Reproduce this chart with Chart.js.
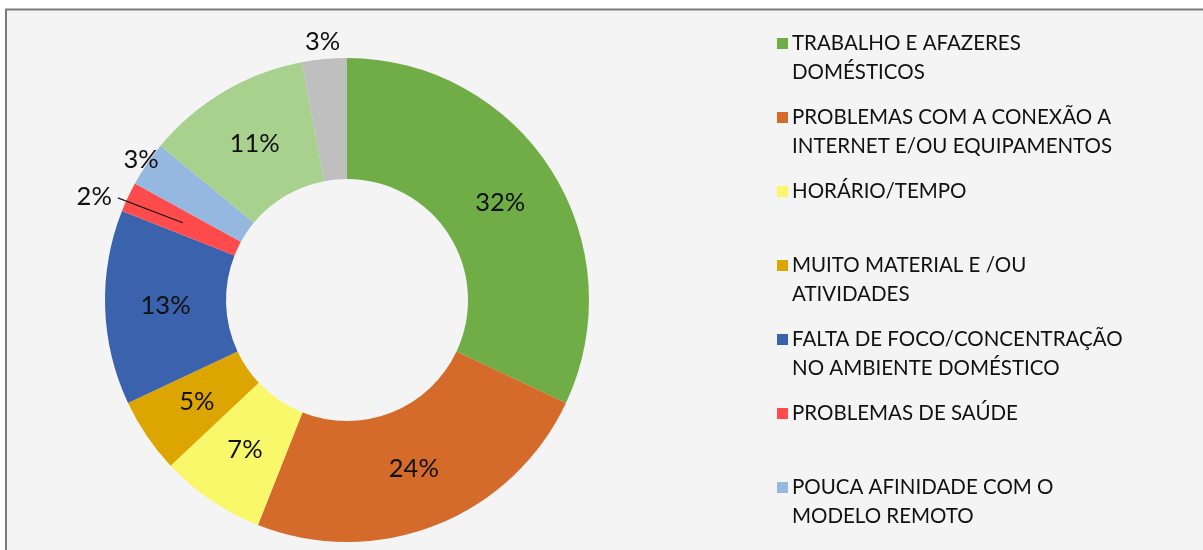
<!DOCTYPE html>
<html><head><meta charset="utf-8">
<script src="https://cdn.jsdelivr.net/npm/chart.js@4.4.0/dist/chart.umd.min.js"></script>
<style>html,body{margin:0;padding:0;background:#fff;}#wrap{width:1203px;height:550px;position:relative;}</style>
</head><body><div id="wrap"><canvas id="c"></canvas></div>
<script>
// ---- data ----
const categories = [
  ['TRABALHO E AFAZERES', 'DOMÉSTICOS'],
  ['PROBLEMAS COM A CONEXÃO A', 'INTERNET E/OU EQUIPAMENTOS'],
  ['HORÁRIO/TEMPO'],
  ['MUITO MATERIAL E /OU', 'ATIVIDADES'],
  ['FALTA DE FOCO/CONCENTRAÇÃO', 'NO AMBIENTE DOMÉSTICO'],
  ['PROBLEMAS DE SAÚDE'],
  ['POUCA AFINIDADE COM O', 'MODELO REMOTO'],
  [''],
  ['']
];
const values = [32, 24, 7, 5, 13, 2, 3, 11, 3];
const colors = ['#70AD47', '#D46B2A', '#F9F76A', '#DDA500', '#3A62AD', '#FF4B4B', '#95B8E0', '#A8D18D', '#BFBFBF'];
const legendCount = 7; // entries visible in the legend

// ---- label placement (style) ----
const placement = [
  {mode: 'in'}, {mode: 'in'}, {mode: 'in'}, {mode: 'in'}, {mode: 'in'},
  {mode: 'leader', r: 273, da: -3},
  {mode: 'out', r: 249, da: 0},
  {mode: 'in'},
  {mode: 'out', r: 259, da: 0}
];

const FONT = 'Lato, "Open Sans", sans-serif';

const bgPlugin = {
  id: 'bg',
  beforeDraw(chart) {
    const ctx = chart.ctx;
    ctx.save();
    ctx.fillStyle = '#ffffff';
    ctx.fillRect(0, 0, chart.width, chart.height);
    ctx.fillStyle = '#f4f4f4';
    ctx.fillRect(7, 10, chart.width - 7, chart.height - 10);
    ctx.strokeStyle = '#7a7a7a';
    ctx.lineWidth = 2;
    ctx.beginPath();
    ctx.moveTo(6, chart.height);
    ctx.lineTo(6, 9.5);
    ctx.lineTo(chart.width, 9.5);
    ctx.stroke();
    ctx.restore();
  }
};

const labelPlugin = {
  id: 'labels',
  afterDatasetsDraw(chart) {
    const ctx = chart.ctx;
    const meta = chart.getDatasetMeta(0);
    ctx.save();
    ctx.font = '25.5px ' + FONT;
    ctx.fillStyle = '#111111';
    ctx.textAlign = 'center';
    ctx.textBaseline = 'middle';
    meta.data.forEach((arc, i) => {
      const p = arc.getProps(['x', 'y', 'startAngle', 'endAngle', 'innerRadius', 'outerRadius'], true);
      const mid = (p.startAngle + p.endAngle) / 2;
      const txt = values[i] + '%';
      const pl = placement[i];
      if (pl.mode === 'in') {
        const r = (p.innerRadius + p.outerRadius) / 2;
        ctx.fillText(txt, p.x + r * Math.cos(mid), p.y + r * Math.sin(mid));
      } else {
        const a = mid + pl.da * Math.PI / 180;
        const tx = p.x + pl.r * Math.cos(a);
        const ty = p.y + pl.r * Math.sin(a);
        ctx.fillText(txt, tx, ty);
        if (pl.mode === 'leader') {
          const w = ctx.measureText(txt).width;
          const rm = (p.innerRadius + p.outerRadius) / 2;
          ctx.strokeStyle = '#1a1a1a';
          ctx.lineWidth = 1.2;
          ctx.beginPath();
          ctx.moveTo(tx + w / 2 + 6, ty + 1);
          ctx.lineTo(p.x + rm * Math.cos(mid), p.y + rm * Math.sin(mid));
          ctx.stroke();
        }
      }
    });
    ctx.restore();
  }
};

const legendPlugin = {
  id: 'customLegend',
  afterDraw(chart) {
    const ctx = chart.ctx;
    ctx.save();
    ctx.font = '20.5px ' + FONT;
    ctx.textAlign = 'left';
    ctx.textBaseline = 'middle';
    for (let i = 0; i < legendCount; i++) {
      const y0 = 43 + i * 74;
      ctx.fillStyle = colors[i];
      ctx.fillRect(777, y0 - 5, 11, 11);
      ctx.fillStyle = '#111111';
      categories[i].forEach((line, j) => {
        ctx.fillText(line, 792, y0 + j * 29.5);
      });
    }
    ctx.restore();
  }
};

new Chart(document.getElementById('c'), {
  type: 'doughnut',
  data: {
    labels: categories,
    datasets: [{
      data: values,
      backgroundColor: colors,
      borderWidth: 0
    }]
  },
  options: {
    responsive: true,
    maintainAspectRatio: false,
    animation: false,
    cutout: '50%',
    rotation: 0,
    layout: {padding: {top: 58, bottom: 8, left: 105, right: 614}},
    plugins: {legend: {display: false}, tooltip: {enabled: false}}
  },
  plugins: [bgPlugin, labelPlugin, legendPlugin]
});
</script>
</body></html>
